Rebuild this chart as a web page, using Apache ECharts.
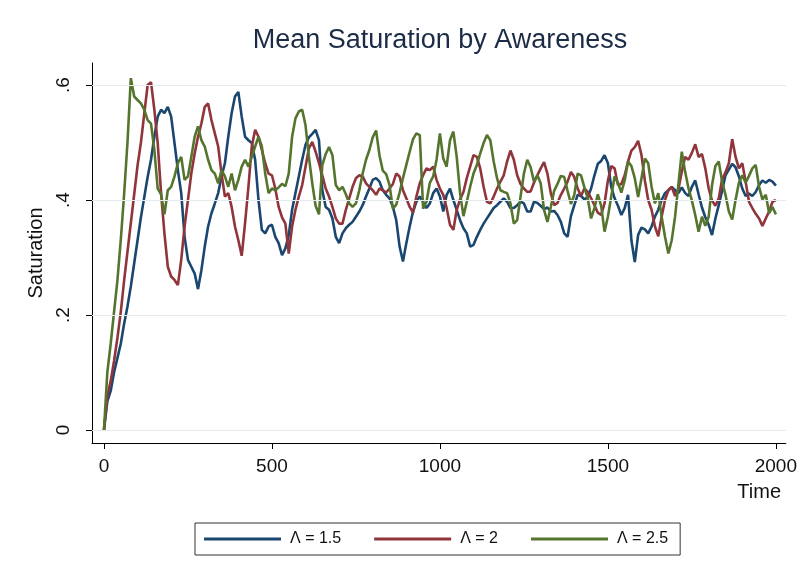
<!DOCTYPE html>
<html lang="en">
  <head>
    <meta charset="UTF-8" />
    <title>Mean Saturation by Awareness</title>
    <style>
      html,
      body {
        margin: 0;
        padding: 0;
        background: #fff;
      }
      #main {
        width: 800px;
        height: 586px;
      }
    </style>
  </head>
  <body>
    <div id="main"></div>
    <script src="https://cdn.jsdelivr.net/npm/echarts@6/dist/echarts.min.js"></script>
    <script>
      // time index, every 10 steps
      const times = [
        0, 10, 20, 30, 40, 50, 60, 70, 80, 90, 100, 110, 120, 130, 140, 150, 160, 170, 180, 190,
        200, 210, 220, 230, 240, 250, 260, 270, 280, 290, 300, 310, 320, 330, 340, 350, 360, 370, 380, 390,
        400, 410, 420, 430, 440, 450, 460, 470, 480, 490, 500, 510, 520, 530, 540, 550, 560, 570, 580, 590,
        600, 610, 620, 630, 640, 650, 660, 670, 680, 690, 700, 710, 720, 730, 740, 750, 760, 770, 780, 790,
        800, 810, 820, 830, 840, 850, 860, 870, 880, 890, 900, 910, 920, 930, 940, 950, 960, 970, 980, 990,
        1000, 1010, 1020, 1030, 1040, 1050, 1060, 1070, 1080, 1090, 1100, 1110, 1120, 1130, 1140, 1150, 1160, 1170, 1180, 1190,
        1200, 1210, 1220, 1230, 1240, 1250, 1260, 1270, 1280, 1290, 1300, 1310, 1320, 1330, 1340, 1350, 1360, 1370, 1380, 1390,
        1400, 1410, 1420, 1430, 1440, 1450, 1460, 1470, 1480, 1490, 1500, 1510, 1520, 1530, 1540, 1550, 1560, 1570, 1580, 1590,
        1600, 1610, 1620, 1630, 1640, 1650, 1660, 1670, 1680, 1690, 1700, 1710, 1720, 1730, 1740, 1750, 1760, 1770, 1780, 1790,
        1800, 1810, 1820, 1830, 1840, 1850, 1860, 1870, 1880, 1890, 1900, 1910, 1920, 1930, 1940, 1950, 1960, 1970, 1980, 1990,
        2000,
      ];

      // Lambda = 1.5
      const sat15 = [
        0, 0.05, 0.068, 0.1, 0.125, 0.15, 0.185, 0.215, 0.25, 0.29,
        0.33, 0.37, 0.405, 0.44, 0.47, 0.51, 0.545, 0.557, 0.551, 0.562,
        0.545, 0.499, 0.452, 0.412, 0.336, 0.296, 0.284, 0.272, 0.245, 0.278,
        0.319, 0.354, 0.377, 0.394, 0.412, 0.441, 0.464, 0.51, 0.551, 0.58,
        0.588, 0.545, 0.51, 0.504, 0.499, 0.47, 0.4, 0.348, 0.342, 0.354,
        0.357, 0.336, 0.325, 0.304, 0.316, 0.339, 0.383, 0.412, 0.441, 0.47,
        0.496, 0.509, 0.515, 0.522, 0.504, 0.417, 0.388, 0.383, 0.368, 0.336,
        0.325, 0.342, 0.351, 0.357, 0.362, 0.371, 0.38, 0.391, 0.406, 0.42,
        0.435, 0.438, 0.432, 0.417, 0.409, 0.403, 0.388, 0.365, 0.319, 0.293,
        0.325, 0.354, 0.38, 0.397, 0.406, 0.397, 0.386, 0.394, 0.412, 0.42,
        0.406, 0.38, 0.409, 0.42, 0.4, 0.383, 0.365, 0.351, 0.342, 0.319,
        0.322, 0.336, 0.348, 0.359, 0.368, 0.377, 0.386, 0.391, 0.397, 0.403,
        0.397, 0.386, 0.386, 0.391, 0.397, 0.394, 0.38, 0.38, 0.397, 0.395,
        0.39, 0.384, 0.387, 0.38, 0.381, 0.374, 0.362, 0.342, 0.336, 0.372,
        0.391, 0.409, 0.407, 0.401, 0.405, 0.42, 0.443, 0.463, 0.468, 0.478,
        0.464, 0.423, 0.403, 0.39, 0.374, 0.386, 0.409, 0.33, 0.292, 0.339,
        0.352, 0.349, 0.342, 0.354, 0.371, 0.383, 0.4, 0.412, 0.417, 0.423,
        0.417, 0.412, 0.422, 0.412, 0.407, 0.423, 0.434, 0.41, 0.387, 0.37,
        0.357, 0.339, 0.368, 0.391, 0.416, 0.443, 0.453, 0.463, 0.457, 0.441,
        0.42, 0.407, 0.411, 0.407, 0.414, 0.426, 0.434, 0.43, 0.435, 0.432,
        0.425,
      ];

      // Lambda = 2
      const sat20 = [
        0, 0.06, 0.085, 0.12, 0.16, 0.205, 0.26, 0.31, 0.36, 0.41,
        0.46, 0.5, 0.55, 0.6, 0.605, 0.557, 0.499, 0.412, 0.342, 0.284,
        0.267, 0.261, 0.252, 0.296, 0.354, 0.4, 0.446, 0.481, 0.51, 0.533,
        0.562, 0.568, 0.539, 0.516, 0.493, 0.446, 0.406, 0.412, 0.388, 0.354,
        0.33, 0.303, 0.36, 0.423, 0.493, 0.522, 0.51, 0.487, 0.464, 0.446,
        0.443, 0.42, 0.388, 0.37, 0.359, 0.307, 0.354, 0.383, 0.406, 0.426,
        0.458, 0.49, 0.501, 0.484, 0.464, 0.443, 0.42, 0.406, 0.388, 0.368,
        0.359, 0.359, 0.383, 0.403, 0.423, 0.438, 0.443, 0.441, 0.429, 0.423,
        0.417, 0.409, 0.42, 0.417, 0.413, 0.42, 0.428, 0.446, 0.441, 0.417,
        0.403, 0.388, 0.378, 0.406, 0.429, 0.443, 0.455, 0.452, 0.458, 0.435,
        0.42, 0.409, 0.386, 0.357, 0.348, 0.383, 0.401, 0.414, 0.438, 0.458,
        0.478, 0.475, 0.455, 0.423, 0.397, 0.394, 0.406, 0.42, 0.432, 0.443,
        0.467, 0.486, 0.47, 0.443, 0.428, 0.42, 0.414, 0.415, 0.43, 0.443,
        0.455, 0.466, 0.446, 0.412, 0.391, 0.395, 0.409, 0.42, 0.432, 0.449,
        0.44, 0.42, 0.407, 0.42, 0.414, 0.403, 0.391, 0.378, 0.374, 0.394,
        0.434, 0.459, 0.455, 0.426, 0.428, 0.443, 0.467, 0.486, 0.492, 0.503,
        0.478, 0.434, 0.4, 0.383, 0.354, 0.337, 0.371, 0.4, 0.417, 0.423,
        0.407, 0.419, 0.449, 0.475, 0.47, 0.482, 0.497, 0.475, 0.48, 0.455,
        0.42, 0.399, 0.39, 0.403, 0.436, 0.448, 0.464, 0.506, 0.475, 0.455,
        0.464, 0.432, 0.397, 0.386, 0.376, 0.368, 0.355, 0.368, 0.38, 0.397,
        0.4,
      ];

      // Lambda = 2.5
      const sat25 = [
        0, 0.1, 0.15, 0.205, 0.26, 0.33, 0.41, 0.5, 0.612, 0.58,
        0.574, 0.568, 0.557, 0.539, 0.533, 0.487, 0.42, 0.41, 0.375, 0.417,
        0.423, 0.441, 0.464, 0.475, 0.435, 0.441, 0.475, 0.51, 0.528, 0.504,
        0.493, 0.47, 0.452, 0.446, 0.429, 0.452, 0.441, 0.423, 0.446, 0.417,
        0.435, 0.458, 0.47, 0.458, 0.475, 0.493, 0.51, 0.493, 0.446, 0.412,
        0.42, 0.417, 0.422, 0.428, 0.424, 0.446, 0.51, 0.542, 0.554, 0.557,
        0.53, 0.475, 0.429, 0.39, 0.375, 0.461, 0.48, 0.492, 0.478, 0.426,
        0.417, 0.423, 0.41, 0.394, 0.388, 0.394, 0.417, 0.446, 0.47, 0.487,
        0.509, 0.521, 0.478, 0.451, 0.445, 0.426, 0.385, 0.392, 0.413, 0.438,
        0.461, 0.484, 0.506, 0.516, 0.513, 0.385, 0.397, 0.43, 0.441, 0.47,
        0.516, 0.472, 0.458, 0.504, 0.519, 0.475, 0.412, 0.372, 0.397, 0.423,
        0.446, 0.461, 0.481, 0.499, 0.513, 0.504, 0.467, 0.438, 0.417, 0.414,
        0.412, 0.394, 0.359, 0.365, 0.406, 0.446, 0.47, 0.457, 0.432, 0.443,
        0.429, 0.383, 0.362, 0.388, 0.416, 0.428, 0.442, 0.44, 0.416, 0.393,
        0.409, 0.446, 0.443, 0.422, 0.403, 0.368, 0.386, 0.41, 0.39, 0.345,
        0.371, 0.406, 0.441, 0.43, 0.413, 0.434, 0.467, 0.459, 0.438, 0.405,
        0.438, 0.472, 0.464, 0.423, 0.394, 0.412, 0.371, 0.336, 0.307, 0.33,
        0.371, 0.428, 0.484, 0.449, 0.42, 0.399, 0.374, 0.345, 0.371, 0.355,
        0.371, 0.426, 0.459, 0.467, 0.432, 0.409, 0.38, 0.366, 0.4, 0.43,
        0.443, 0.43, 0.442, 0.455, 0.461, 0.423, 0.401, 0.409, 0.377, 0.388,
        0.375,
      ];

      const seriesNames = ["Λ = 1.5", "Λ = 2", "Λ = 2.5"];
      const seriesColors = ["#1a476f", "#90353b", "#55752f"];
      const xTicks = [0, 500, 1000, 1500, 2000];
      const yTicks = [0, 0.2, 0.4, 0.6];

      const font = '"Liberation Sans", Arial, sans-serif';

      let mchart = echarts.init(document.getElementById("main"));

      let mseries = [
        {
          // faint horizontal gridlines behind the data
          name: "grid",
          type: "line",
          data: [],
          silent: true,
          z: 1,
          markLine: {
            silent: true,
            symbol: ["none", "none"],
            label: { show: false },
            lineStyle: { color: "#e3ebee", width: 1, type: "solid" },
            data: yTicks.map((v) => ({ yAxis: v })),
          },
        },
      ];
      [sat15, sat20, sat25].forEach((vals, i) => {
        mseries.push({
          name: seriesNames[i],
          type: "line",
          showSymbol: false,
          symbol: "none",
          z: 2 + i,
          color: seriesColors[i],
          lineStyle: { width: 2.6, color: seriesColors[i] },
          data: times.map((t, k) => [t, vals[k]]),
        });
      });

      let option = {
        animation: false,
        backgroundColor: "#fff",
        textStyle: { fontFamily: font },
        grid: { left: 92, right: 12, top: 63, bottom: 143 },
        legend: {
          data: seriesNames,
          left: 195,
          top: 523,
          padding: [8, 12, 8, 9],
          itemWidth: 77,
          itemHeight: 3,
          itemGap: 33,
          icon: "rect",
          borderColor: "#333",
          borderWidth: 1,
          textStyle: {
            fontSize: 16,
            color: "#111",
            fontFamily: font,
            padding: [0, 0, 0, 4],
          },
        },
        xAxis: {
          type: "value",
          min: -35.6,
          max: 2029.7,
          axisLine: { show: true, onZero: false, lineStyle: { color: "#000", width: 1 } },
          axisTick: { show: true, customValues: xTicks, length: 6, lineStyle: { color: "#000" } },
          axisLabel: {
            customValues: xTicks,
            margin: 14,
            fontSize: 19,
            color: "#111",
            fontFamily: font,
            formatter: (v) => String(v),
          },
          splitLine: { show: false },
        },
        yAxis: {
          type: "value",
          min: -0.0226,
          max: 0.6383,
          name: "Saturation",
          nameLocation: "middle",
          nameGap: 40,
          nameTextStyle: { fontSize: 20, color: "#111", fontFamily: font },
          axisLine: { show: true, onZero: false, lineStyle: { color: "#000", width: 1 } },
          axisTick: { show: true, customValues: yTicks, length: 6, lineStyle: { color: "#000" } },
          axisLabel: {
            customValues: yTicks,
            rotate: 90,
            margin: 19,
            fontSize: 19,
            color: "#111",
            fontFamily: font,
            formatter: (v) => (v === 0 ? "0" : v.toFixed(1).replace(/^0/, "")),
          },
          splitLine: { show: false },
        },
        graphic: [
          {
            type: "text",
            x: 440,
            y: 41,
            style: {
              text: "Mean Saturation by Awareness",
              fill: "#1c2b46",
              font: "27px " + font,
              align: "center",
              verticalAlign: "middle",
              textAlign: "center",
              textVerticalAlign: "middle",
            },
          },
          {
            type: "text",
            x: 781,
            y: 492,
            style: {
              text: "Time",
              fill: "#111",
              font: "20px " + font,
              align: "right",
              verticalAlign: "middle",
              textAlign: "right",
              textVerticalAlign: "middle",
            },
          },
        ],
        series: mseries,
      };
      mchart.setOption(option);
    </script>
  </body>
</html>
